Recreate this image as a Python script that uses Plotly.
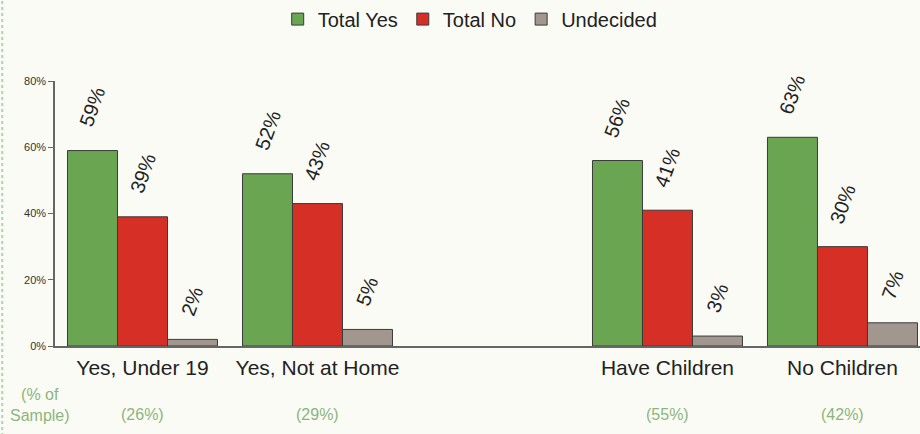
import plotly.graph_objects as go

# data
groups = ["Yes, Under 19", "Yes, Not at Home", "Have Children", "No Children"]
group_pos = [0, 1, 3, 4]          # slot 2 is left empty in the original
sample_share = ["(26%)", "(29%)", "(55%)", "(42%)"]
total_yes = [59, 52, 56, 63]
total_no = [39, 43, 41, 30]
undecided = [2, 5, 3, 7]

series = [
    ("Total Yes", total_yes, "#6aa552"),
    ("Total No", total_no, "#d62f26"),
    ("Undecided", undecided, "#a1978f"),
]

BAR_W = 0.2857
offsets = [-1.5 * BAR_W, -0.5 * BAR_W, 0.5 * BAR_W]
FONT = "Liberation Sans, Arial, sans-serif"
GREEN_TXT = "#8cb57c"

fig = go.Figure()
annotations = []
for (name, vals, col), off in zip(series, offsets):
    fig.add_trace(go.Bar(
        x=group_pos,
        y=vals,
        name=name,
        width=BAR_W,
        offset=off,
        marker=dict(color=col, line=dict(color="#3b3b3b", width=1)),
        hovertemplate="%{y}%<extra>" + name + "</extra>",
    ))
    for xp, v in zip(group_pos, vals):
        annotations.append(dict(
            x=xp + off + BAR_W / 2, y=v, xref="x", yref="y",
            text=f"{v}%", showarrow=False, textangle=-70,
            xanchor="center", yanchor="bottom", yshift=18,
            font=dict(family=FONT, size=20, color="#222222"),
        ))

# sample share under each group
for xp, s in zip(group_pos, sample_share):
    annotations.append(dict(
        x=xp, y=-0.257, xref="x", yref="paper", text=s, showarrow=False,
        xanchor="center", yanchor="middle",
        font=dict(family=FONT, size=16, color=GREEN_TXT),
    ))
annotations.append(dict(
    x=-0.0173, y=-0.223, xref="paper", yref="paper",
    text="(% of<br>Sample)", showarrow=False, xanchor="center", yanchor="middle",
    align="center", font=dict(family=FONT, size=16, color=GREEN_TXT),
))

fig.update_layout(
    width=920, height=434,
    margin=dict(l=55, r=0, t=81, b=88, autoexpand=False),
    paper_bgcolor="#fbfbf6",
    plot_bgcolor="#fbfbf6",
    barmode="overlay",
    showlegend=True,
    legend=dict(orientation="h", x=0.48, xanchor="center", y=0.956, yanchor="middle",
                yref="container",
                font=dict(family=FONT, size=20, color="#222222"),
                itemwidth=30, tracegroupgap=0, bgcolor="rgba(0,0,0,0)"),
    annotations=annotations,
    font=dict(family=FONT),
)
fig.update_xaxes(
    range=[-0.5, 4.443],
    tickvals=group_pos, ticktext=groups,
    tickfont=dict(family=FONT, size=21, color="#222222"),
    ticks="", ticklabelstandoff=2, showgrid=False, zeroline=False,
    showline=True, linecolor="#666666", linewidth=1.5,
)
fig.update_yaxes(
    range=[0, 80], tickvals=[0, 20, 40, 60, 80],
    ticktext=["0%", "20%", "40%", "60%", "80%"],
    tickfont=dict(family=FONT, size=11, color="#333333"),
    ticks="outside", ticklen=5, tickcolor="#666666",
    showgrid=False, zeroline=False,
    showline=True, linecolor="#666666", linewidth=1.5,
)
# faint dotted border on the left edge of the scan
fig.add_shape(type="line", xref="paper", yref="paper", x0=-0.061, x1=-0.061, y0=-0.34, y1=1.31,
              line=dict(color="#a9d6b4", width=2, dash="dot"))

# drop the browser's default body margin so the figure sits at the window origin
fig.write_html("out.html", config={"displayModeBar": False},
               post_script="document.body.style.margin='0';")
